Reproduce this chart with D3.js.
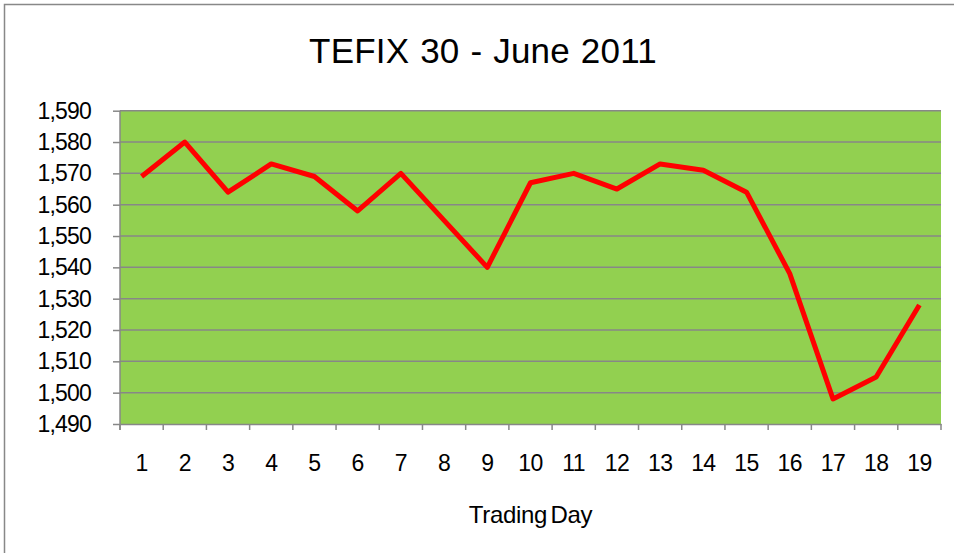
<!DOCTYPE html>
<html>

<head>
  <title>TEFIX 30 - June 2011</title>
</head>

<style>
  body,
  html {
    margin: 0;
    padding: 0;
    background: #fff;
  }
</style>

<body>

  <svg id="svg" width="954" height="553"></svg>

  <script src="https://d3js.org/d3.v7.min.js"></script>
  <script>

    // values
    const days = [1, 2, 3, 4, 5, 6, 7, 8, 9, 10, 11, 12, 13, 14, 15, 16, 17, 18, 19]
    const closes = [1569, 1580, 1564, 1573, 1569, 1558, 1570, 1555, 1540, 1567,
      1570, 1565, 1573, 1571, 1564, 1538, 1498, 1505, 1528]
    const yTicks = [1490, 1500, 1510, 1520, 1530, 1540, 1550, 1560, 1570, 1580, 1590]

    const svg = d3.select('#svg')
    const font = 'Liberation Sans, Arial, sans-serif'

    // chart frame (only top and left edge fall inside the picture)
    svg.append('rect')
      .attr('x', 4.5).attr('y', 4.5)
      .attr('width', 960).attr('height', 560)
      .attr('fill', '#fff')
      .attr('stroke', '#888').attr('stroke-width', 1.5)

    const plotLeft = 120, plotRight = 941, plotTop = 110.7, plotBottom = 424

    const xscale = d3.scaleBand()
      .domain(days)
      .range([plotLeft, plotRight])

    const yscale = d3.scaleLinear()
      .domain([1490, 1590])
      .range([plotBottom, plotTop])

    // plot area
    svg.append('rect')
      .attr('x', plotLeft).attr('y', plotTop)
      .attr('width', plotRight - plotLeft).attr('height', plotBottom - plotTop)
      .attr('fill', '#92d050')

    // gridlines
    svg.append('g')
      .selectAll('line')
      .data(yTicks.slice(1))
      .join('line')
      .attr('x1', plotLeft).attr('x2', plotRight)
      .attr('y1', d => yscale(d)).attr('y2', d => yscale(d))
      .attr('stroke', '#878787').attr('stroke-width', 1.5)

    // y axis
    const yAxis = svg.append('g')
      .attr('transform', `translate(${plotLeft},0)`)
      .call(d3.axisLeft(yscale).tickValues(yTicks).tickSize(7).tickPadding(22)
        .tickFormat(d3.format(',')))
    yAxis.select('.domain').remove()
    yAxis.selectAll('.tick line').attr('stroke', '#878787').attr('stroke-width', 1.5)
    yAxis.selectAll('text')
      .attr('font-family', font).attr('font-size', 23).attr('fill', '#000')
      .attr('letter-spacing', -0.8)

    svg.append('line')
      .attr('x1', plotLeft).attr('x2', plotLeft)
      .attr('y1', plotTop).attr('y2', plotBottom + 6)
      .attr('stroke', '#878787').attr('stroke-width', 1.5)

    // x axis
    const xAxis = svg.append('g')
      .attr('transform', `translate(0,${plotBottom})`)
      .call(d3.axisBottom(xscale).tickSize(0).tickPadding(31))
    xAxis.select('.domain').attr('stroke', '#878787').attr('stroke-width', 1.5)
    xAxis.selectAll('text')
      .attr('font-family', font).attr('font-size', 23).attr('fill', '#000')
      .attr('letter-spacing', -0.6)

    // x tick marks sit between the categories
    svg.append('g')
      .selectAll('line')
      .data(days.concat([days.length + 1]))
      .join('line')
      .attr('x1', d => d <= days.length ? xscale(d) : plotRight)
      .attr('x2', d => d <= days.length ? xscale(d) : plotRight)
      .attr('y1', plotBottom).attr('y2', plotBottom + 6)
      .attr('stroke', '#878787').attr('stroke-width', 1.5)

    // line
    const linegen = d3.line()
      .x((d, i) => xscale(days[i]) + xscale.bandwidth() / 2)
      .y(d => yscale(d))

    svg.append('path')
      .attr('d', linegen(closes))
      .attr('fill', 'none')
      .attr('stroke', '#ff0000')
      .attr('stroke-width', 5)
      .attr('stroke-linejoin', 'round')

    // titles
    svg.append('text')
      .attr('x', 483).attr('y', 63)
      .attr('text-anchor', 'middle')
      .attr('font-family', font).attr('font-size', 35)
      .attr('letter-spacing', 0.2).attr('word-spacing', 1)
      .text('TEFIX 30 - June 2011')

    svg.append('text')
      .attr('x', (plotLeft + plotRight) / 2).attr('y', 523)
      .attr('text-anchor', 'middle')
      .attr('font-family', font).attr('font-size', 24)
      .attr('letter-spacing', -0.3).attr('word-spacing', -3)
      .text('Trading Day')

  </script>

</body>

</html>
